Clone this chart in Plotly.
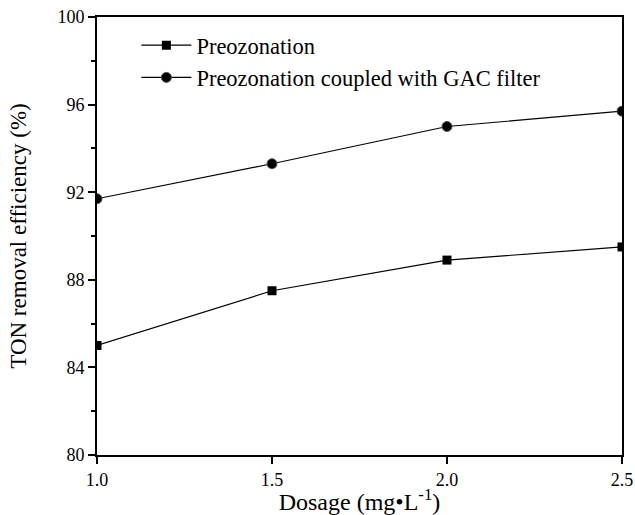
import plotly.graph_objects as go

dosage = [1.0, 1.5, 2.0, 2.5]
preozonation = [85.0, 87.5, 88.9, 89.5]
preozonation_gac = [91.7, 93.3, 95.0, 95.7]

font = "Liberation Serif, Times New Roman, serif"

fig = go.Figure()
fig.add_trace(go.Scatter(
    x=dosage, y=preozonation, mode="lines+markers", name="Preozonation",
    line=dict(color="black", width=1.2),
    marker=dict(symbol="square", size=9, color="black"),
))
fig.add_trace(go.Scatter(
    x=dosage, y=preozonation_gac, mode="lines+markers",
    name="Preozonation coupled with GAC filter",
    line=dict(color="black", width=1.2),
    marker=dict(symbol="circle", size=10, color="black",
                line=dict(color="#555", width=1)),
))

fig.update_layout(
    width=635, height=515,
    margin=dict(l=97, r=13, t=17, b=60),
    paper_bgcolor="white", plot_bgcolor="white",
    font=dict(family=font, size=18, color="black"),
    showlegend=True,
    legend=dict(x=0.075, y=0.984, xanchor="left", yanchor="top",
                bgcolor="rgba(0,0,0,0)", font=dict(size=22.5, family=font),
                tracegroupgap=0, itemwidth=50),
    xaxis=dict(
        range=[1.0, 2.5], tickvals=[1.0, 1.5, 2.0, 2.5],
        ticktext=["1.0", "1.5", "2.0", "2.5"],
        ticks="outside", ticklen=7, tickwidth=1.5, tickcolor="black",
        showline=True, linewidth=1.8, linecolor="black", mirror=True,
        showgrid=False, zeroline=False, automargin=False,
        ticklabeloverflow="allow",
        title=dict(text="Dosage (mg•L<sup>-1</sup>)", font=dict(size=24, family=font), standoff=2),
        tickfont=dict(size=18, family=font),
    ),
    yaxis=dict(
        range=[80, 100], tickvals=[80, 84, 88, 92, 96, 100],
        ticks="outside", ticklen=7, tickwidth=1.5, tickcolor="black",
        minor=dict(tickvals=[82, 86, 90, 94, 98], ticks="outside", ticklen=4, tickwidth=1.5, tickcolor="black"),
        showline=True, linewidth=1.8, linecolor="black", mirror=True,
        showgrid=False, zeroline=False, automargin=False,
        ticklabeloverflow="allow",
        title=dict(text="TON removal efficiency (%)", font=dict(size=23, family=font), standoff=24),
        tickfont=dict(size=18, family=font),
    ),
)

fig.write_html("out.html", config={"displayModeBar": False},
               post_script="document.body.style.margin='0';")
